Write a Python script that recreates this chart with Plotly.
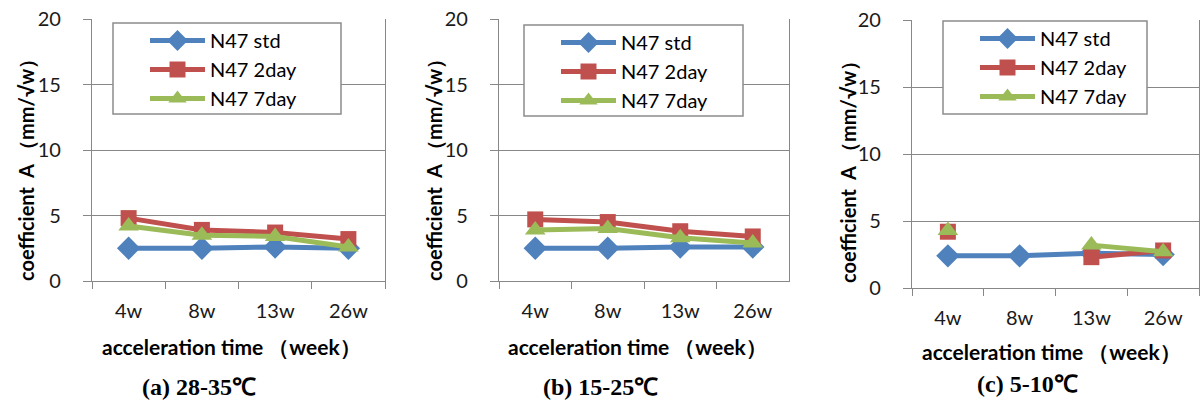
import plotly.graph_objects as go

W, H = 1202, 403

weeks = ["4w", "8w", "13w", "26w"]
series_names = ["N47 std", "N47 2day", "N47 7day"]

# panel (a) 28-35C
a_std = [2.5, 2.5, 2.6, 2.5]
a_2day = [4.8, 3.9, 3.7, 3.2]
a_7day = [4.2, 3.5, 3.4, 2.6]
# panel (b) 15-25C
b_std = [2.5, 2.5, 2.6, 2.6]
b_2day = [4.7, 4.5, 3.8, 3.4]
b_7day = [3.9, 4.0, 3.3, 2.9]
# panel (c) 5-10C
c_std = [2.4, 2.4, 2.6, 2.5]
c_2day = [4.2, None, 2.3, 2.8]
c_7day = [4.3, None, 3.2, 2.7]

y_ticks = [0, 5, 10, 15, 20]
captions = ["(a) 28-35℃", "(b) 15-25℃", "(c) 5-10℃"]
y_title = "coefficient  A （mm/√w）"
x_title = "acceleration time （week）"

colors = ["#4F81BD", "#C0504D", "#9BBB59"]
symbols = ["diamond", "square", "triangle-up"]
msizes = [18, 16, 18]

# geometry in pixels
panels = [
    dict(x0=92, x1=385, y0=19, y1=281, data=[a_std, a_2day, a_7day],
         leg=(113, 23, 341, 114), ytitle_x=26, ytitle_y=165, xt_x=231, xt_y=346,
         cap_x=199, cap_y=387),
    dict(x0=499, x1=789, y0=19, y1=281, data=[b_std, b_2day, b_7day],
         leg=(524, 25, 743, 116), ytitle_x=434, ytitle_y=165, xt_x=637, xt_y=346,
         cap_x=600, cap_y=387),
    dict(x0=912, x1=1199, y0=20, y1=288, data=[c_std, c_2day, c_7day],
         leg=(943, 21, 1147, 114), ytitle_x=848, ytitle_y=167, xt_x=1051, xt_y=351,
         cap_x=1027, cap_y=384),
]

def px(x):
    return x / W

def py(y):
    return 1 - y / H

fig = go.Figure()
shapes = []
annotations = []
layout = {}
TICKFONT = dict(family="Lato", size=20, color="#1a1a1a")
GRID = "#878787"

for i, p in enumerate(panels):
    n = "" if i == 0 else str(i + 1)
    legname = "legend" + n
    for j in range(3):
        fig.add_trace(go.Scatter(
            x=weeks, y=p["data"][j], name=series_names[j],
            mode="lines+markers",
            line=dict(color=colors[j], width=5),
            marker=dict(symbol=symbols[j], size=msizes[j], color=colors[j]),
            connectgaps=False,
            xaxis="x" + n, yaxis="y" + n, legend=legname,
        ))
    layout["xaxis" + n] = dict(
        domain=[px(p["x0"]), px(p["x1"])], anchor="y" + n,
        type="category", range=[-0.5, 3.5], tickson="boundaries",
        ticks="outside", ticklen=7, tickcolor=GRID, tickwidth=1.3,
        showline=True, linecolor=GRID, linewidth=1.3, mirror=False,
        showgrid=False, tickfont=TICKFONT, ticklabelstandoff=12,
        fixedrange=True, automargin=False,
    )
    layout["yaxis" + n] = dict(
        domain=[py(p["y1"]), py(p["y0"])], anchor="x" + n,
        range=[0, 20], tickvals=y_ticks, ticks="outside", ticklen=8,
        tickcolor=GRID, tickwidth=1.3, showline=True, linecolor=GRID,
        linewidth=1.3, mirror=True, showgrid=True, gridcolor=GRID,
        gridwidth=1.3, zeroline=False, tickfont=TICKFONT,
        ticklabelstandoff=18, fixedrange=True, automargin=False,
    )
    lx0, ly0, lx1, ly1 = p["leg"]
    shapes.append(dict(type="rect", xref="paper", yref="paper",
                       x0=px(lx0), x1=px(lx1), y0=py(ly1), y1=py(ly0),
                       line=dict(color="#8c8c8c", width=1.5),
                       fillcolor="white", layer="above"))
    layout[legname] = dict(
        x=px(lx0 + 32), y=py(ly0 - 2), xanchor="left", yanchor="top",
        bgcolor="rgba(0,0,0,0)", borderwidth=0, itemwidth=55,
        font=dict(family="Lato", size=20, color="#000"),
        itemclick=False, itemdoubleclick=False,
    )
    annotations.append(dict(
        text=y_title, xref="paper", yref="paper",
        x=px(p["ytitle_x"]), y=py(p["ytitle_y"]), textangle=-90,
        showarrow=False, xanchor="center", yanchor="middle",
        font=dict(family="Lato", size=20, color="#000", weight="bold"),
    ))
    annotations.append(dict(
        text=x_title, xref="paper", yref="paper",
        x=px(p["xt_x"]), y=py(p["xt_y"]),
        showarrow=False, xanchor="center", yanchor="middle",
        font=dict(family="Lato", size=21, color="#000", weight="bold"),
    ))
    annotations.append(dict(
        text=captions[i], xref="paper", yref="paper",
        x=px(p["cap_x"]), y=py(p["cap_y"]),
        showarrow=False, xanchor="center", yanchor="middle",
        font=dict(family="Liberation Serif", size=24, color="#000", weight="bold"),
    ))

fig.update_layout(
    width=W, height=H, margin=dict(l=0, r=0, t=0, b=0, autoexpand=False),
    paper_bgcolor="white", plot_bgcolor="white",
    showlegend=True, shapes=shapes, annotations=annotations,
    **layout,
)

fig.write_html("out.html", config={"displayModeBar": False},
               post_script="document.body.style.margin='0px';document.body.style.overflow='hidden';")
